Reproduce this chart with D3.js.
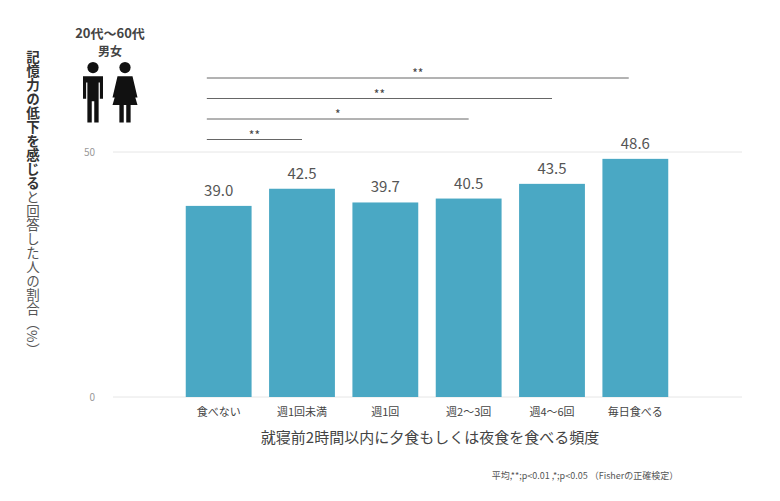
<!DOCTYPE html><html><head><meta charset="utf-8">
<script src="https://cdn.jsdelivr.net/npm/d3@7"></script>
<style>body{margin:0;background:#fff;font-family:"Noto Sans CJK JP","Noto Sans",sans-serif}</style></head><body>
<svg id="c" width="780" height="501"></svg>
<script>
const categories=["食べない","週1回未満","週1回","週2～3回","週4～6回","毎日食べる"];
const values=[39.0,42.5,39.7,40.5,43.5,48.6];
const yTicks=[0,50];
const sigEnds=[5,4,3,1];
const sigLabels=["**","**","*","**"];

const svg=d3.select("#c");
const F='"Noto Sans CJK JP",sans-serif';
const x=d3.scaleBand().domain(categories).range([177,677]).paddingInner(0.21).paddingOuter(0.105);
const y=d3.scaleLinear().domain([0,50]).range([397,152]);

svg.selectAll(".g").data(yTicks).enter().append("line")
 .attr("x1",113).attr("x2",742).attr("y1",d=>y(d)).attr("y2",d=>y(d))
 .attr("stroke","#e6e6e6").attr("stroke-width",1);
svg.selectAll(".yt").data(yTicks).enter().append("text")
 .attr("x",95).attr("y",d=>y(d)+4).attr("text-anchor","end")
 .attr("font-size",10).attr("fill","#999").attr("font-family",F).text(d=>d);

svg.selectAll(".b").data(values).enter().append("rect")
 .attr("x",(d,i)=>x(categories[i])).attr("width",x.bandwidth())
 .attr("y",d=>y(d)).attr("height",d=>y(0)-y(d)).attr("fill","#4aa8c4");
svg.selectAll(".v").data(values).enter().append("text")
 .attr("x",(d,i)=>x(categories[i])+x.bandwidth()/2).attr("y",d=>y(d)-10)
 .attr("text-anchor","middle").attr("font-size",15).attr("fill","#555").attr("font-family",F)
 .text(d=>d.toFixed(1));
svg.selectAll(".xl").data(categories).enter().append("text")
 .attr("x",d=>x(d)+x.bandwidth()/2).attr("y",416).attr("text-anchor","middle")
 .attr("font-size",11).attr("fill","#444").attr("font-family",F).text(d=>d);

const sx0=x(categories[0])+x.bandwidth()*0.32;
sigEnds.forEach((e,k)=>{
  const yy=78+k*20.5;
  const x2=x(categories[e])+x.bandwidth()*(e===5?0.4:0.5);
  svg.append("line").attr("x1",sx0).attr("x2",x2).attr("y1",yy).attr("y2",yy).attr("stroke","#666").attr("stroke-width",1);
  svg.append("text").attr("x",(sx0+x2)/2).attr("y",yy).attr("text-anchor","middle")
   .attr("font-size",12).attr("fill","#444").text(sigLabels[k]);
});

svg.append("text").attr("x",430).attr("y",443).attr("text-anchor","middle")
 .attr("font-size",15).attr("fill","#444").attr("font-family",F).text("就寝前2時間以内に夕食もしくは夜食を食べる頻度");
svg.append("text").attr("x",585).attr("y",479).attr("text-anchor","middle")
 .attr("font-size",9).attr("fill","#555").attr("font-family",F).text("平均,**;p<0.01 ,*;p<0.05 （Fisherの正確検定）");

svg.append("text").attr("x",110).attr("y",38).attr("text-anchor","middle")
 .attr("font-size",13).attr("font-weight","bold").attr("fill","#444").attr("font-family",F).text("20代～60代");
svg.append("text").attr("x",110).attr("y",56).attr("text-anchor","middle")
 .attr("font-size",12).attr("font-weight","bold").attr("fill","#444").attr("font-family",F).text("男女");

function man(g){g.append("circle").attr("cx",0).attr("cy",-22).attr("r",4.5);
 g.append("path").attr("d","M-8,-15 H8 V3 H5.5 V-10 H4.5 V22 H1 V5 H-1 V22 H-4.5 V-10 H-5.5 V3 H-8 Z");}
function woman(g){g.append("circle").attr("cx",0).attr("cy",-22).attr("r",4.5);
 g.append("path").attr("d","M-6,-15 H6 L10,2 H8 L5,-9 L10,8 H4.5 V22 H1 V8 H-1 V22 H-4.5 V8 H-10 L-5,-9 L-8,2 H-10 Z");}
man(svg.append("g").attr("transform","translate(93,95) scale(1.25)").attr("fill","#111"));
woman(svg.append("g").attr("transform","translate(125,95) scale(1.25)").attr("fill","#111"));

const yl=svg.append("text").attr("transform","translate(33,50)").style("writing-mode","vertical-rl")
 .attr("font-size",13.5).attr("fill","#333").attr("font-family",F).attr("letter-spacing","0.5");
yl.append("tspan").attr("font-weight","bold").text("記憶力の低下を感じる");
yl.append("tspan").attr("fill","#555").text("と回答した人の割合（%）");
</script></body></html>
